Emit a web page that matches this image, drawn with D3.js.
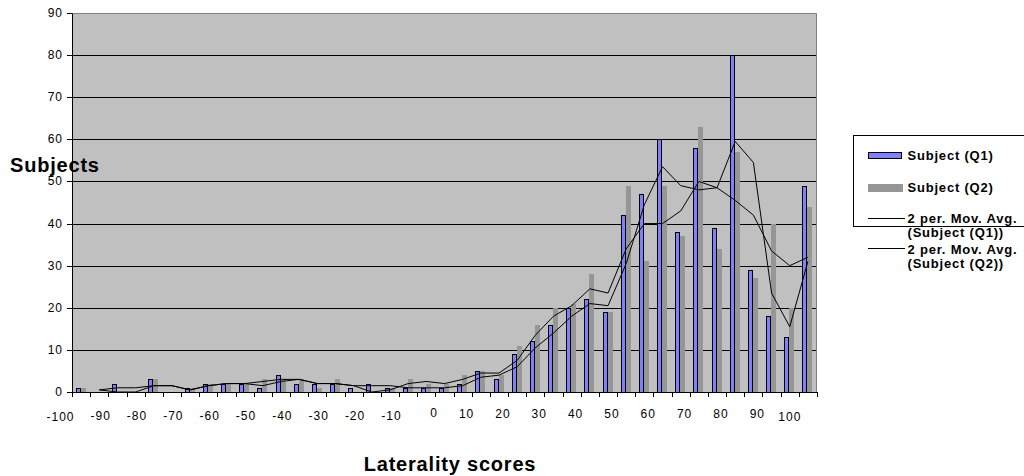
<!DOCTYPE html>
<html>
<head>
<meta charset="utf-8">
<title>Laterality scores</title>
<script src="https://cdn.jsdelivr.net/npm/d3@7"></script>
<style>
  body { margin: 0; background: #fff; }
  svg { display: block; font-family: 'Liberation Sans', Arial, sans-serif; }
</style>
</head>
<body>
<svg id="chart" width="1024" height="476"></svg>
<script>
// laterality score categories, step 5
const categories = [-100, -95, -90, -85, -80, -75, -70, -65, -60, -55, -50, -45, -40, -35, -30, -25, -20, -15, -10, -5,
  0, 5, 10, 15, 20, 25, 30, 35, 40, 45, 50, 55, 60, 65, 70, 75, 80, 85, 90, 95, 100];

const subjectQ1 = [1, 0, 2, 0, 3, 0, 1, 2, 2, 2, 1, 4, 2, 2, 2, 1, 2, 1, 1, 1,
  1, 2, 5, 3, 9, 12, 16, 20, 22, 19, 42, 47, 60, 38, 58, 39, 80, 29, 18, 13, 49];

const subjectQ2 = [1, 0, 0, 0, 3, 0, 1, 2, 2, 2, 3, 3, 3, 1, 3, 0, 0, 1, 3, 2,
  2, 4, 5, 4, 11, 16, 20, 21, 28, 19, 49, 31, 49, 37, 63, 34, 57, 27, 40, 20, 44];

// 2 period moving average trendlines (first category has no value)
const movAvgQ1 = [null, 0.5, 1, 1, 1.5, 1.5, 0.5, 1.5, 2, 2, 1.5, 2.5, 3, 2, 2, 1.5, 1.5, 1.5, 1, 1,
  1, 1.5, 3.5, 4, 6, 10.5, 14, 18, 21, 20.5, 30.5, 44.5, 53.5, 49, 48, 48.5, 59.5, 54.5, 23.5, 15.5, 31];

const movAvgQ2 = [null, 0.5, 0, 0, 1.5, 1.5, 0.5, 1.5, 2, 2, 2.5, 3, 3, 2, 2, 1.5, 0, 0.5, 2, 2.5,
  2, 3, 4.5, 4.5, 7.5, 13.5, 18, 20.5, 24.5, 23.5, 34, 40, 40, 43, 50, 48.5, 45.5, 42, 33.5, 30, 32];

const yTicks = [0, 10, 20, 30, 40, 50, 60, 70, 80, 90];
const xTickLabels = ['-100', '-90', '-80', '-70', '-60', '-50', '-40', '-30', '-20', '-10',
  '0', '10', '20', '30', '40', '50', '60', '70', '80', '90', '100'];

const plot = { left: 72, top: 13, right: 817, bottom: 392 };
const blue = '#8080ff';
const grey = '#969696';

const svg = d3.select('#chart');
svg.append('rect').attr('width', 1024).attr('height', 476).attr('fill', '#fff');

const x = d3.scaleBand().domain(categories).range([plot.left, plot.right]);
const bw = x.bandwidth();
const barW = bw * 0.3;
const y = d3.scaleLinear().domain([0, 90]).range([plot.bottom, plot.top]);
const yr = y.copy().interpolate(d3.interpolateRound);

// plot area
svg.append('rect')
  .attr('x', plot.left)
  .attr('y', plot.top)
  .attr('width', plot.right - plot.left)
  .attr('height', plot.bottom - plot.top)
  .attr('fill', '#c0c0c0');

svg.append('g')
  .attr('class', 'grid')
  .selectAll('line')
  .data(yTicks.filter((d) => d > 0 && d < 90))
  .join('line')
  .attr('x1', plot.left)
  .attr('x2', plot.right)
  .attr('y1', (d) => yr(d) + 0.5)
  .attr('y2', (d) => yr(d) + 0.5)
  .attr('stroke', '#000');

svg.append('path')
  .attr('d', `M${plot.left},${plot.top + 0.5}H${plot.right - 0.5}V${plot.bottom}`)
  .attr('fill', 'none')
  .attr('stroke', '#808080');

// bars
const idx = d3.range(categories.length);
svg.append('g')
  .attr('class', 'bars-q1')
  .selectAll('rect')
  .data(idx.filter((i) => subjectQ1[i] > 0))
  .join('rect')
  .attr('x', (i) => Math.round(x(categories[i]) + bw * 0.2) + 0.5)
  .attr('y', (i) => yr(subjectQ1[i]) + 0.5)
  .attr('width', Math.round(barW) - 1)
  .attr('height', (i) => yr(0) - yr(subjectQ1[i]))
  .attr('fill', blue)
  .attr('stroke', '#000');

svg.append('g')
  .attr('class', 'bars-q2')
  .selectAll('rect')
  .data(idx.filter((i) => subjectQ2[i] > 0))
  .join('rect')
  .attr('x', (i) => Math.round(x(categories[i]) + bw * 0.2) + Math.round(barW))
  .attr('y', (i) => yr(subjectQ2[i]))
  .attr('width', Math.round(barW))
  .attr('height', (i) => yr(0) - yr(subjectQ2[i]))
  .attr('fill', grey);

// moving average lines
const line = d3.line()
  .defined((d) => d[1] != null)
  .x((d) => x(d[0]) + bw / 2)
  .y((d) => y(d[1]));

[movAvgQ1, movAvgQ2].forEach((series) => {
  svg.append('path')
    .datum(categories.map((c, i) => [c, series[i]]))
    .attr('d', line)
    .attr('fill', 'none')
    .attr('stroke', '#000')
    .attr('stroke-width', 1);
});

// axes
const yAxis = svg.append('g')
  .attr('transform', `translate(${plot.left},0)`)
  .call(d3.axisLeft(yr).tickValues(yTicks).tickSize(5).tickSizeOuter(0).tickPadding(4));
yAxis.selectAll('text')
  .attr('font-size', 12)
  .attr('font-family', 'Liberation Sans, Arial, sans-serif')
  .attr('letter-spacing', '1px')
  .attr('fill', '#000');

const xEdges = d3.scaleLinear().domain([0, categories.length]).rangeRound([plot.left, plot.right]);
svg.append('g')
  .attr('transform', `translate(0,${yr(0)})`)
  .call(d3.axisBottom(xEdges).tickValues(d3.range(categories.length + 1)).tickFormat('').tickSize(5).tickSizeOuter(0));

// excel drops the wide end labels a little lower, and the negatives below the positives
function labelBaseline(d) {
  if (d === '-100' || d === '100') return 421;
  if (d === '0') return 416.5;
  return +d < 0 ? 420 : 418;
}

svg.append('g')
  .attr('class', 'x-labels')
  .selectAll('text')
  .data(xTickLabels)
  .join('text')
  .attr('x', (d) => x(+d) + 2.5)
  .attr('y', labelBaseline)
  .attr('text-anchor', 'end')
  .attr('font-size', 12)
  .attr('letter-spacing', '1px')
  .text((d) => d);

// axis titles
svg.append('text')
  .attr('x', 10)
  .attr('y', 171.5)
  .attr('font-size', 20)
  .attr('font-weight', 'bold')
  .attr('letter-spacing', '0.8px')
  .text('Subjects');

svg.append('text')
  .attr('x', 450)
  .attr('y', 471)
  .attr('text-anchor', 'middle')
  .attr('font-size', 20)
  .attr('font-weight', 'bold')
  .attr('letter-spacing', '0.8px')
  .text('Laterality scores');

// legend
const legend = svg.append('g').attr('font-size', 13).attr('font-weight', 'bold').attr('letter-spacing', '0.8px');
legend.append('rect')
  .attr('x', 853.5).attr('y', 135.5)
  .attr('width', 220).attr('height', 91)
  .attr('fill', '#fff').attr('stroke', '#000');

legend.append('rect')
  .attr('x', 868.5).attr('y', 152.5).attr('width', 33).attr('height', 6)
  .attr('fill', blue).attr('stroke', '#000');
legend.append('text').attr('x', 907.5).attr('y', 159.5).text('Subject (Q1)');

legend.append('rect')
  .attr('x', 868).attr('y', 184).attr('width', 35).attr('height', 8)
  .attr('fill', grey);
legend.append('text').attr('x', 907.5).attr('y', 192).text('Subject (Q2)');

const maLegend = [
  { ly: 218.5, ty: 222.5, label: ['2 per. Mov. Avg.', '(Subject (Q1))'] },
  { ly: 248.5, ty: 253.5, label: ['2 per. Mov. Avg.', '(Subject (Q2))'] },
];
maLegend.forEach((m) => {
  legend.append('line')
    .attr('x1', 868).attr('x2', 905)
    .attr('y1', m.ly).attr('y2', m.ly)
    .attr('stroke', '#000');
  legend.append('text').attr('x', 907.5).attr('y', m.ty).text(m.label[0]);
  legend.append('text').attr('x', 907.5).attr('y', m.ty + 14.5).text(m.label[1]);
});
</script>
</body>
</html>
